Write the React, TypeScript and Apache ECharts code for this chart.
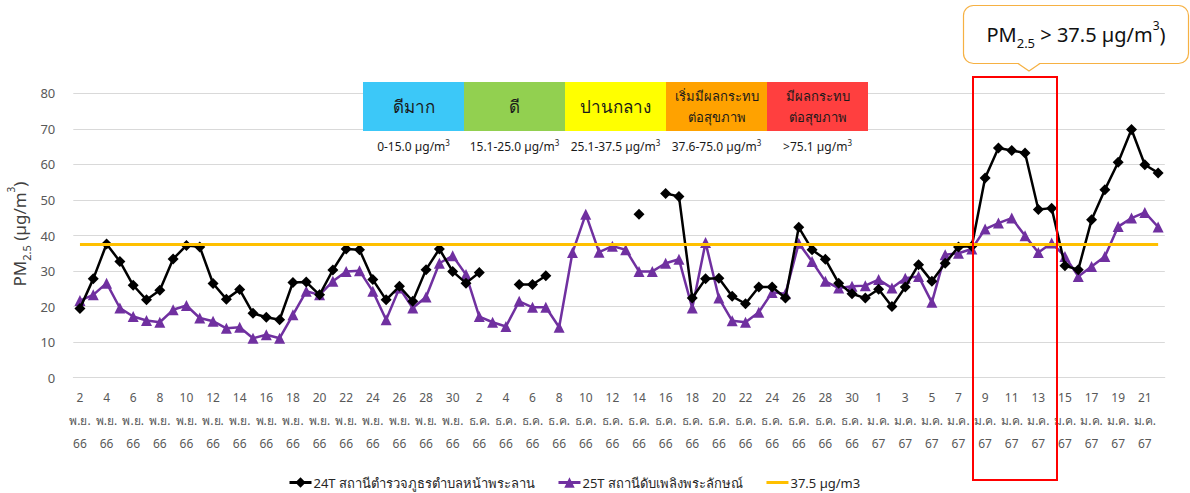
import React, { useEffect, useRef } from "react";
import * as echarts from "echarts";

// ---------- data ----------
const MONTH_SPANS = [
  { month: "พ.ย.", year: "66", first: 2, last: 30 },
  { month: "ธ.ค.", year: "66", first: 1, last: 31 },
  { month: "ม.ค.", year: "67", first: 1, last: 22 },
];

const categories: string[] = [];
MONTH_SPANS.forEach((m) => {
  for (let d = m.first; d <= m.last; d++) categories.push(`${d}\n${m.month}\n${m.year}`);
});

const station24T: (number | null)[] = [
  19.5, 27.8, 37.6, 32.7, 26.0, 21.9, 24.6, 33.4, 37.2, 36.8,
  26.5, 22.1, 24.8, 18.1, 17.0, 16.3, 26.8, 26.9, 23.3, 30.3,
  36.2, 36.0, 27.6, 21.9, 25.7, 21.5, 30.4, 36.2, 29.9, 26.6,
  29.6, null, null, 26.2, 26.2, 28.7, null, null, null, null,
  null, null, 46.0, null, 51.8, 51.0, 22.4, 27.8, 28.0, 22.9,
  20.8, 25.5, 25.5, 22.4, 42.3, 36.0, 33.3, 26.6, 23.6, 22.4,
  24.9, 20.0, 25.5, 31.8, 27.1, 32.2, 36.8, 37.0, 56.2, 64.6,
  63.9, 63.2, 47.3, 47.7, 31.5, 30.4, 44.4, 52.9, 60.6, 69.8,
  59.9, 57.6,
];

const station25T: number[] = [
  21.7, 23.3, 26.6, 19.6, 17.2, 16.1, 15.6, 19.1, 20.3, 16.8,
  15.9, 13.9, 14.2, 11.1, 12.1, 11.1, 17.7, 24.3, 23.3, 27.1,
  29.9, 30.1, 24.3, 16.3, 25.2, 19.6, 22.7, 32.2, 34.3, 29.0,
  17.2, 15.6, 14.4, 21.5, 19.8, 19.8, 14.2, 35.2, 46.0, 35.3,
  37.0, 36.0, 29.9, 29.9, 32.2, 33.3, 19.6, 38.0, 22.4, 16.0,
  15.6, 18.4, 24.0, 23.6, 37.8, 32.7, 27.1, 25.2, 25.7, 25.9,
  27.6, 25.2, 28.0, 28.5, 21.2, 34.6, 35.0, 36.2, 41.8, 43.5,
  44.9, 39.9, 35.2, 37.9, 34.1, 28.5, 31.3, 34.1, 42.5, 44.9,
  46.5, 42.4,
];

const THRESHOLD = 37.5;
const thresholdLine = categories.map(() => THRESHOLD);

const yTicks = { min: 0, max: 80, interval: 10 };

const SERIES_NAMES = [
  "24T สถานีตำรวจภูธรตำบลหน้าพระลาน",
  "25T สถานีดับเพลิงพระลักษณ์",
  "37.5 µg/m3",
];

const AQI_LEVELS = [
  { name: "ดีมาก", range: "0-15.0 µg/m", color: "#3CC8F8" },
  { name: "ดี", range: "15.1-25.0 µg/m", color: "#92D050" },
  { name: "ปานกลาง", range: "25.1-37.5 µg/m", color: "#FFFF00" },
  { name: "เริ่มมีผลกระทบ\nต่อสุขภาพ", range: "37.6-75.0 µg/m", color: "#FFA200" },
  { name: "มีผลกระทบ\nต่อสุขภาพ", range: ">75.1 µg/m", color: "#FF3F3F" },
];

const FONT = "'Noto Sans', 'DejaVu Sans', sans-serif";

export default function App() {
  const ref = useRef<HTMLDivElement>(null);

  useEffect(() => {
    if (!ref.current) return;
    const chart = echarts.init(ref.current, null, { renderer: "svg" });

    const boxX0 = 363;
    const boxW = 101;
    const graphics: any[] = [];
    AQI_LEVELS.forEach((lv, i) => {
      const x = boxX0 + i * boxW;
      const twoLine = lv.name.includes("\n");
      graphics.push({
        type: "rect",
        shape: { x, y: 82, width: boxW, height: 49 },
        style: { fill: lv.color },
        z: 10,
      });
      graphics.push({
        type: "text",
        x: x + boxW / 2,
        y: 106.5,
        style: {
          text: lv.name,
          fontFamily: FONT,
          fontSize: twoLine ? 13 : 17,
          lineHeight: twoLine ? 21 : 20,
          fill: "#1a1a1a",
          align: "center",
          verticalAlign: "middle",
        },
        z: 11,
      });
      graphics.push({
        type: "text",
        x: x + boxW / 2,
        y: 146,
        style: {
          text: `{a|${lv.range}}{s|3}`,
          rich: {
            a: { fontFamily: FONT, fontSize: 12, fill: "#1a1a1a", lineHeight: 16 },
            s: { fontFamily: FONT, fontSize: 8, fill: "#1a1a1a", verticalAlign: "top", lineHeight: 9 },
          },
          align: "center",
          verticalAlign: "middle",
        },
        z: 11,
      });
    });

    // red highlight box
    graphics.push({
      type: "rect",
      shape: { x: 973, y: 77, width: 84, height: 403 },
      style: { fill: "none", stroke: "#FF0000", lineWidth: 2 },
      z: 20,
    });

    // callout
    graphics.push({
      type: "rect",
      shape: { x: 963.5, y: 5.5, width: 225, height: 58, r: 10 },
      style: { fill: "#ffffff", stroke: "#F6B143", lineWidth: 1.2 },
      z: 20,
    });
    graphics.push({
      type: "polygon",
      shape: { points: [[1018, 62.8], [1029, 71], [1040, 62.8]] },
      style: { fill: "#ffffff", stroke: "none" },
      z: 21,
    });
    graphics.push({
      type: "polyline",
      shape: { points: [[1018, 63.5], [1029, 71], [1040, 63.5]] },
      style: { fill: "none", stroke: "#F6B143", lineWidth: 1.2 },
      z: 21,
    });
    graphics.push({
      type: "text",
      x: 1076,
      y: 34,
      style: {
        text: "{a|PM}{b|2.5}{a| > 37.5 µg/m}{c|3}{a|)}",
        rich: {
          a: { fontFamily: FONT, fontSize: 20, fill: "#111", lineHeight: 30 },
          b: { fontFamily: FONT, fontSize: 13, fill: "#111", verticalAlign: "bottom", lineHeight: 12 },
          c: { fontFamily: FONT, fontSize: 12, fill: "#111", verticalAlign: "top", lineHeight: 14 },
        },
        align: "center",
        verticalAlign: "middle",
      },
      z: 22,
    });

    // y-axis title
    graphics.push({
      type: "text",
      x: 19,
      y: 234,
      rotation: Math.PI / 2,
      style: {
        text: "{a|PM}{b|2.5}{a| (µg/m}{c|3}{a|)}",
        rich: {
          a: { fontFamily: FONT, fontSize: 17, fill: "#404040", lineHeight: 26 },
          b: { fontFamily: FONT, fontSize: 11, fill: "#404040", verticalAlign: "bottom", lineHeight: 10 },
          c: { fontFamily: FONT, fontSize: 10, fill: "#404040", verticalAlign: "top", lineHeight: 12 },
        },
        align: "center",
        verticalAlign: "middle",
      },
      z: 22,
    });

    chart.setOption({
      animation: false,
      backgroundColor: "#ffffff",
      grid: { left: 73.3, right: 25.2, top: 93.3, bottom: 115.3, containLabel: false },
      xAxis: {
        type: "category",
        data: categories,
        boundaryGap: true,
        axisLine: { show: true, lineStyle: { color: "#D9D9D9", width: 1 } },
        axisTick: { show: false },
        axisLabel: {
          interval: 1,
          color: "#595959",
          fontFamily: FONT,
          fontSize: 12,
          lineHeight: 23,
          margin: 8,
          hideOverlap: false,
        },
        splitLine: { show: false },
      },
      yAxis: {
        type: "value",
        min: yTicks.min,
        max: yTicks.max,
        interval: yTicks.interval,
        axisLine: { show: false },
        axisTick: { show: false },
        axisLabel: { color: "#595959", fontFamily: FONT, fontSize: 13, margin: 18 },
        splitLine: { lineStyle: { color: "#D9D9D9", width: 1 } },
      },
      legend: {
        left: 283,
        top: 471,
        itemGap: 22,
        itemWidth: 22,
        itemHeight: 13,
        lineStyle: { width: 3 },
        textStyle: { color: "#262626", fontFamily: FONT, fontSize: 13, padding: [0, 0, 0, -3] },
        data: [
          { name: SERIES_NAMES[0] },
          { name: SERIES_NAMES[1] },
          { name: SERIES_NAMES[2], itemStyle: { opacity: 0 } },
        ],
      },
      series: [
        {
          name: SERIES_NAMES[0],
          type: "line",
          data: station24T,
          connectNulls: false,
          symbol: "diamond",
          symbolSize: 11,
          showAllSymbol: true,
          lineStyle: { color: "#000000", width: 2.5 },
          itemStyle: { color: "#000000" },
          z: 3,
        },
        {
          name: SERIES_NAMES[1],
          type: "line",
          data: station25T,
          symbol: "triangle",
          symbolSize: 11,
          showAllSymbol: true,
          lineStyle: { color: "#7030A0", width: 2.5 },
          itemStyle: { color: "#7030A0" },
          z: 2,
        },
        {
          name: SERIES_NAMES[2],
          type: "line",
          data: thresholdLine,
          symbol: "none",
          lineStyle: { color: "#FFC000", width: 3 },
          itemStyle: { color: "#FFC000" },
          z: 4,
        },
      ],
      graphic: graphics,
    });

    return () => chart.dispose();
  }, []);

  return (
    <div
      ref={ref}
      style={{ position: "fixed", left: 0, top: 0, width: 1190, height: 493, background: "#fff" }}
    />
  );
}
